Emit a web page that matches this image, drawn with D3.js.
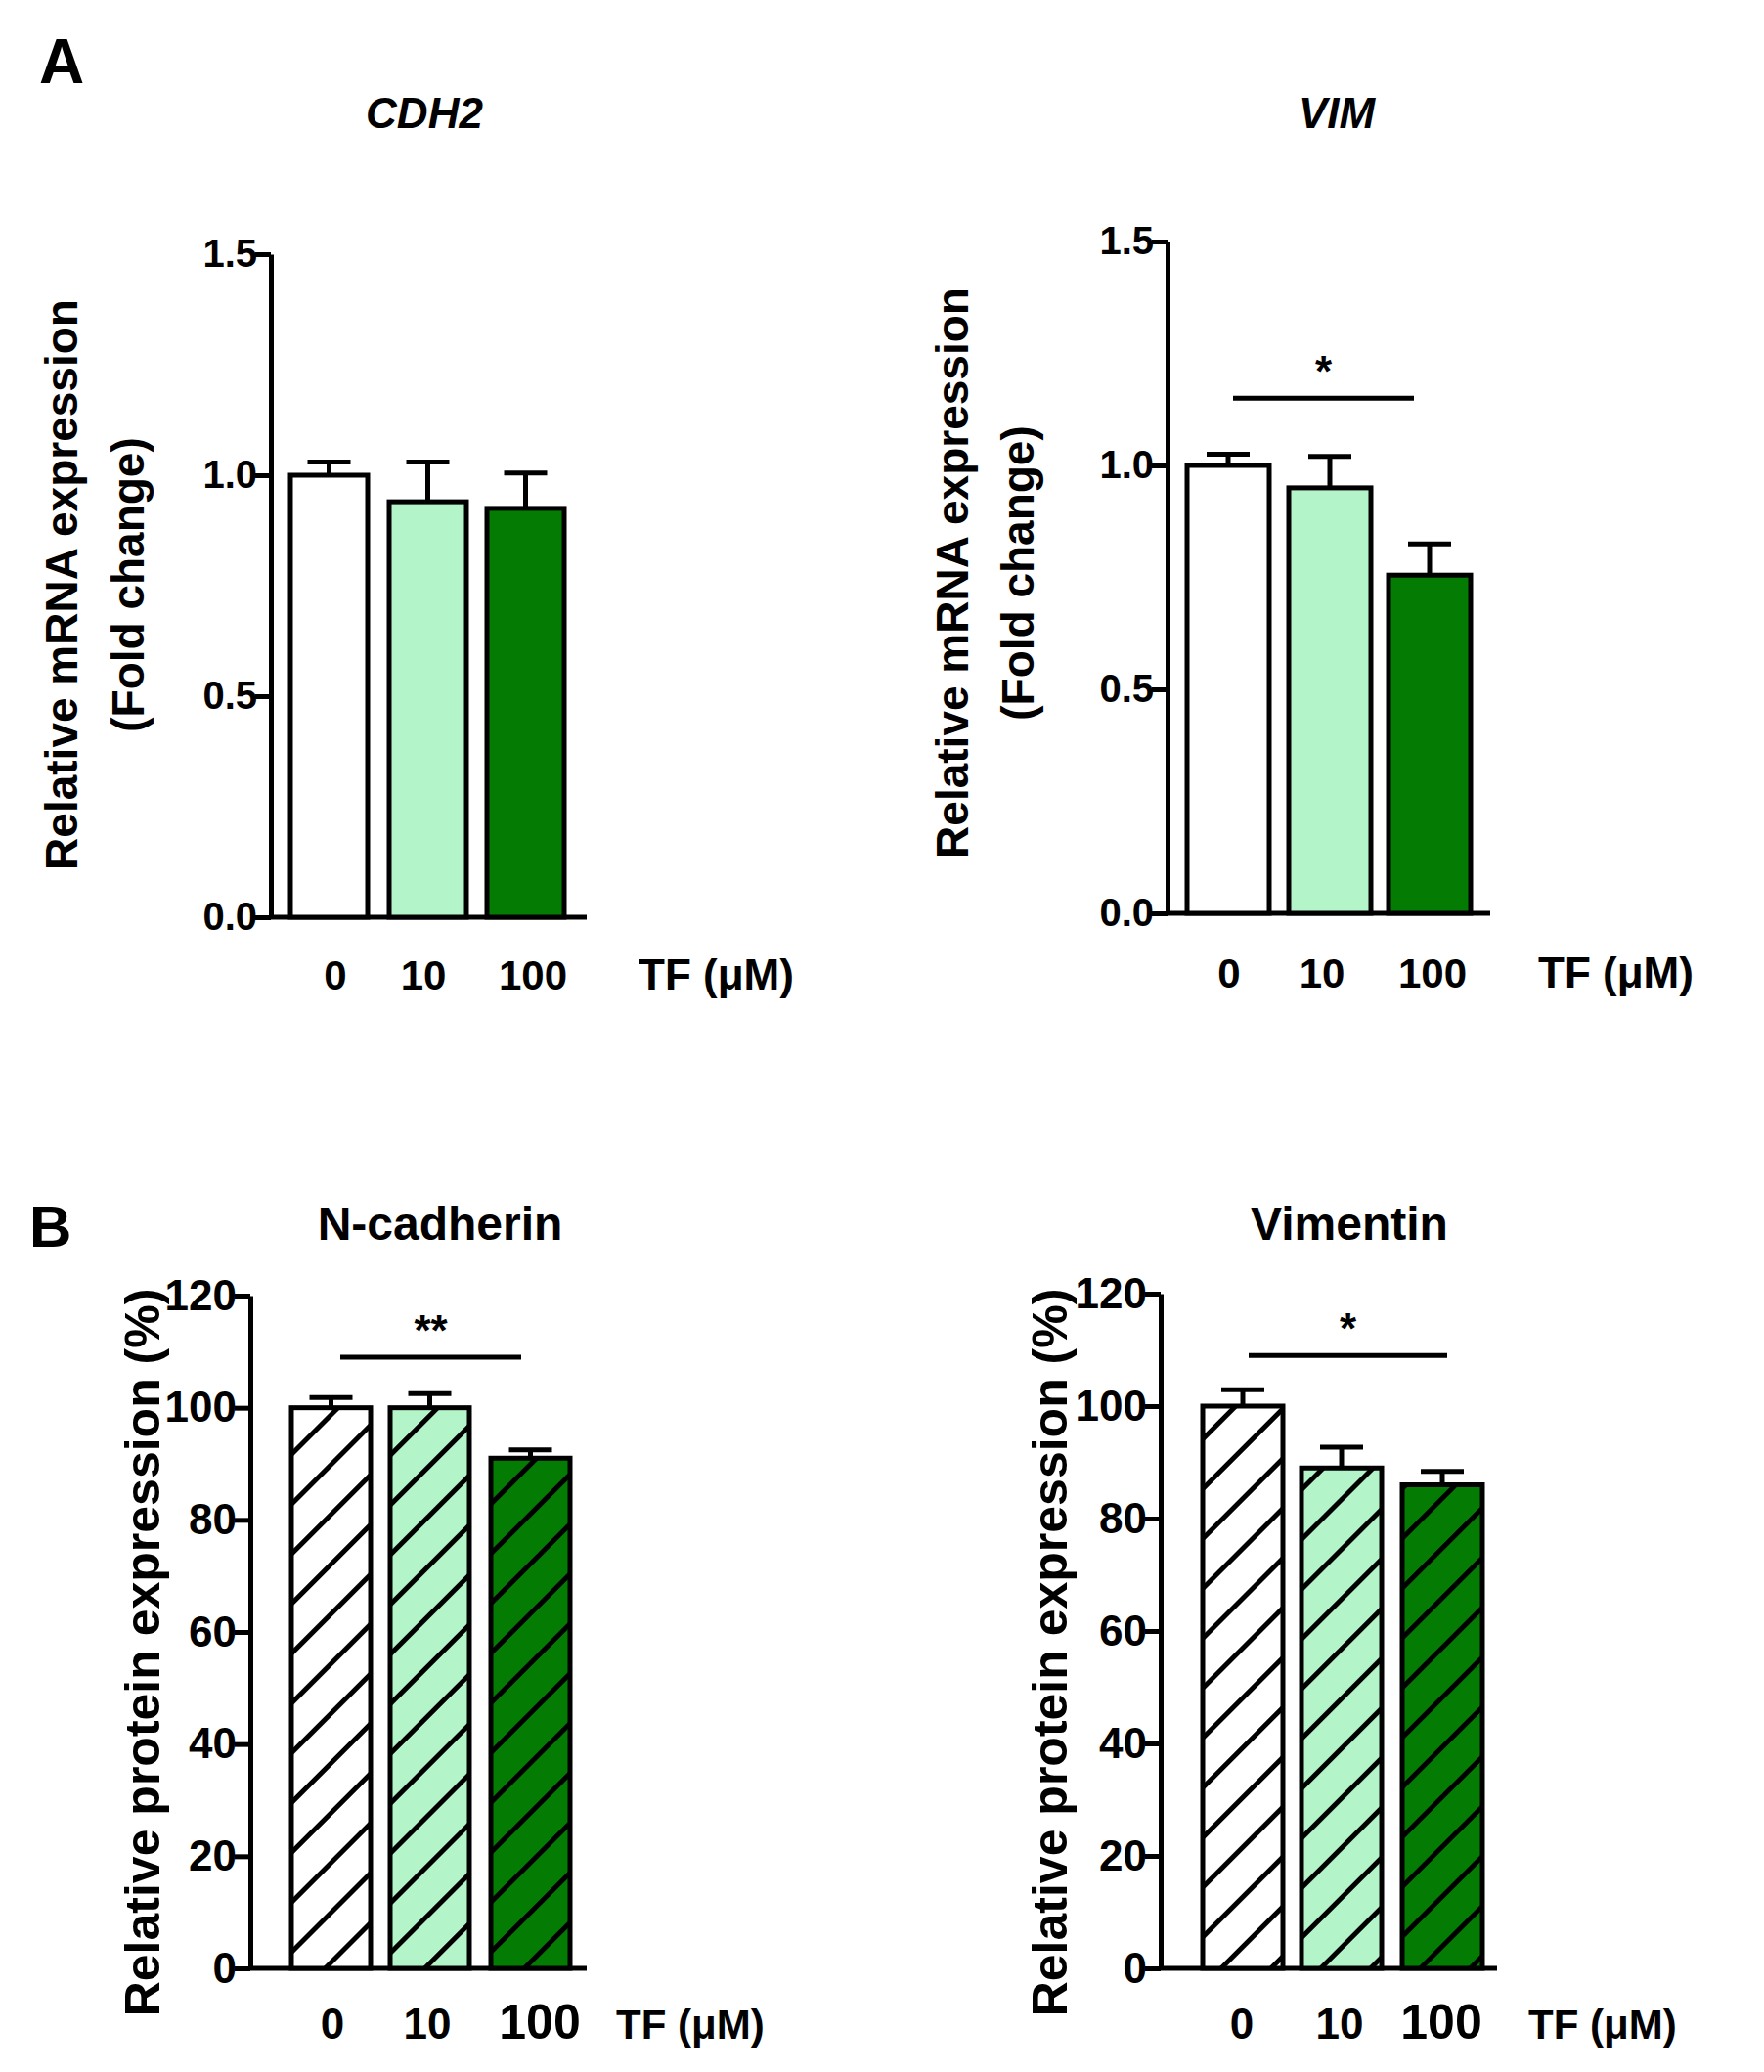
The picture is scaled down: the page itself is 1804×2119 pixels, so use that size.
<!DOCTYPE html>
<html><head><meta charset="utf-8">
<script src="https://cdn.jsdelivr.net/npm/d3@7"></script>
<style>body{margin:0;background:#fff}</style></head>
<body><svg id="c" width="1804" height="2119"></svg>
<script>
const categories = ["0","10","100"];
const cdh2Values = [1.0, 0.94, 0.925];
const cdh2Errors = [0.03, 0.09, 0.08];
const vimValues = [1.0, 0.95, 0.755];
const vimErrors = [0.025, 0.07, 0.07];
const ncadValues = [100, 100, 91];
const ncadErrors = [1.8, 2.5, 1.5];
const vimentinValues = [100, 89, 86];
const vimentinErrors = [2.9, 3.7, 2.4];
const mrnaTicks = [0, 0.5, 1.0, 1.5];
const proteinTicks = [0, 20, 40, 60, 80, 100, 120];
const fills = ["#ffffff", "#b3f5c8", "#047c04"];

const svg = d3.select("#c");
const defs = svg.append("defs");
fills.forEach((f,i)=>{
  const p = defs.append("pattern").attr("id","h"+i).attr("patternUnits","userSpaceOnUse")
    .attr("width",36).attr("height",36).attr("patternTransform","rotate(45)");
  p.append("rect").attr("width",36).attr("height",36).attr("fill",f);
  p.append("rect").attr("x",0).attr("width",5).attr("height",36).attr("fill","#000");
});

const panels = [
 {title:"CDH2", italic:true, vals:cdh2Values, errs:cdh2Errors, ticks:mrnaTicks, dom:[0,1.5], fmt:d3.format(".1f"),
  ax:277, top:260, bot:938, xend:600, bx:[297,398,498], bw:79, narrow:true,
  ylab:["Relative mRNA expression","(Fold change)"], ylx:[67,135], yly:598, tx:434, ty:131, hatch:false,
  catx:[343,433,545], caty:1012, tfx:653, sig:null},
 {title:"VIM", italic:true, vals:vimValues, errs:vimErrors, ticks:mrnaTicks, dom:[0,1.5], fmt:d3.format(".1f"),
  ax:1194, top:247, bot:934, xend:1524, bx:[1214,1318,1420], bw:84, narrow:true,
  ylab:["Relative mRNA expression","(Fold change)"], ylx:[978,1045], yly:586, tx:1367, ty:131, hatch:false,
  catx:[1257,1352,1465], caty:1010, tfx:1573, sig:{v:1.15,x1:1261,x2:1446,t:"*"}},
 {title:"N-cadherin", italic:false, vals:ncadValues, errs:ncadErrors, ticks:proteinTicks, dom:[0,120], fmt:d3.format("d"),
  ax:256, top:1325, bot:2013, xend:600, bx:[298,399,502], bw:81, narrow:false,
  ylab:["Relative protein expression (%)"], ylx:[150], yly:1690, tx:450, ty:1268, hatch:true,
  catx:[340,437,552], caty:2085, tfx:630, sig:{v:109,x1:348,x2:533,t:"**"}},
 {title:"Vimentin", italic:false, vals:vimentinValues, errs:vimentinErrors, ticks:proteinTicks, dom:[0,120], fmt:d3.format("d"),
  ax:1187, top:1323, bot:2013, xend:1531, bx:[1230,1331,1434], bw:82, narrow:false,
  ylab:["Relative protein expression (%)"], ylx:[1078], yly:1690, tx:1380, ty:1268, hatch:true,
  catx:[1270,1370,1474], caty:2085, tfx:1563, sig:{v:109,x1:1277,x2:1480,t:"*"}}
];

const font = "'Liberation Sans', Arial, sans-serif";
const nfont = "'Liberation Sans Narrow', 'Liberation Sans', Arial, sans-serif";

panels.forEach(p=>{
  const g = svg.append("g");
  const y = d3.scaleLinear().domain(p.dom).range([p.bot,p.top]);
  const ff = p.narrow ? nfont : font;
  const ax = g.append("g").attr("transform",`translate(${p.ax},0)`)
    .call(d3.axisLeft(y).tickValues(p.ticks).tickFormat(p.fmt).tickSize(16).tickSizeOuter(0));
  ax.select(".domain").attr("stroke-width",5).attr("stroke","#000");
  ax.selectAll(".tick line").attr("stroke-width",5).attr("stroke","#000");
  ax.selectAll(".tick text").attr("font-family",ff).attr("font-weight","bold")
    .attr("font-size",p.narrow?40:44).attr("fill","#000").attr("x",-14);
  g.append("line").attr("x1",p.ax).attr("x2",p.xend).attr("y1",p.bot).attr("y2",p.bot)
    .attr("stroke","#000").attr("stroke-width",5);
  p.vals.forEach((v,i)=>{
    const cx = p.bx[i]+p.bw/2;
    g.append("line").attr("x1",cx).attr("x2",cx).attr("y1",y(v)).attr("y2",y(v+p.errs[i])).attr("stroke","#000").attr("stroke-width",5);
    g.append("line").attr("x1",cx-22).attr("x2",cx+22).attr("y1",y(v+p.errs[i])).attr("y2",y(v+p.errs[i])).attr("stroke","#000").attr("stroke-width",5);
    g.append("rect").attr("x",p.bx[i]).attr("y",y(v)).attr("width",p.bw).attr("height",p.bot-y(v))
      .attr("fill",p.hatch?`url(#h${i})`:fills[i]).attr("stroke","#000").attr("stroke-width",5);
  });
  if(p.sig){
    g.append("line").attr("x1",p.sig.x1).attr("x2",p.sig.x2).attr("y1",y(p.sig.v)).attr("y2",y(p.sig.v)).attr("stroke","#000").attr("stroke-width",5);
    g.append("text").attr("x",(p.sig.x1+p.sig.x2)/2).attr("y",y(p.sig.v)-12).attr("text-anchor","middle")
      .attr("font-family",font).attr("font-weight","bold").attr("font-size",44).text(p.sig.t);
  }
  g.append("text").attr("x",p.tx).attr("y",p.ty).attr("text-anchor","middle").attr("font-family",ff)
    .attr("font-weight","bold").attr("font-style",p.italic?"italic":"normal").attr("font-size",p.narrow?44:48).text(p.title);
  p.ylab.forEach((t,j)=>{
    g.append("text").attr("transform",`translate(${p.ylx[j]},${p.yly}) rotate(-90)`).attr("text-anchor","middle")
      .attr("dominant-baseline","middle").attr("font-family",font).attr("font-weight","bold").attr("font-size",p.narrow?46:50).text(t);
  });
  categories.forEach((c,i)=>{
    g.append("text").attr("x",p.catx[i]).attr("y",p.caty).attr("text-anchor","middle").attr("font-family",ff)
      .attr("font-weight","bold").attr("font-size",p.narrow?42:(i==2?50:44)).text(c);
  });
  g.append("text").attr("x",p.tfx).attr("y",p.caty).attr("font-family",ff).attr("font-weight","bold")
    .attr("font-size",p.narrow?44:42).text("TF (μM)");
});
svg.append("text").attr("x",40).attr("y",85).attr("font-family",nfont).attr("font-weight","bold").attr("font-size",64).text("A");
svg.append("text").attr("x",30).attr("y",1275).attr("font-family",font).attr("font-weight","bold").attr("font-size",60).text("B");
</script></body></html>
